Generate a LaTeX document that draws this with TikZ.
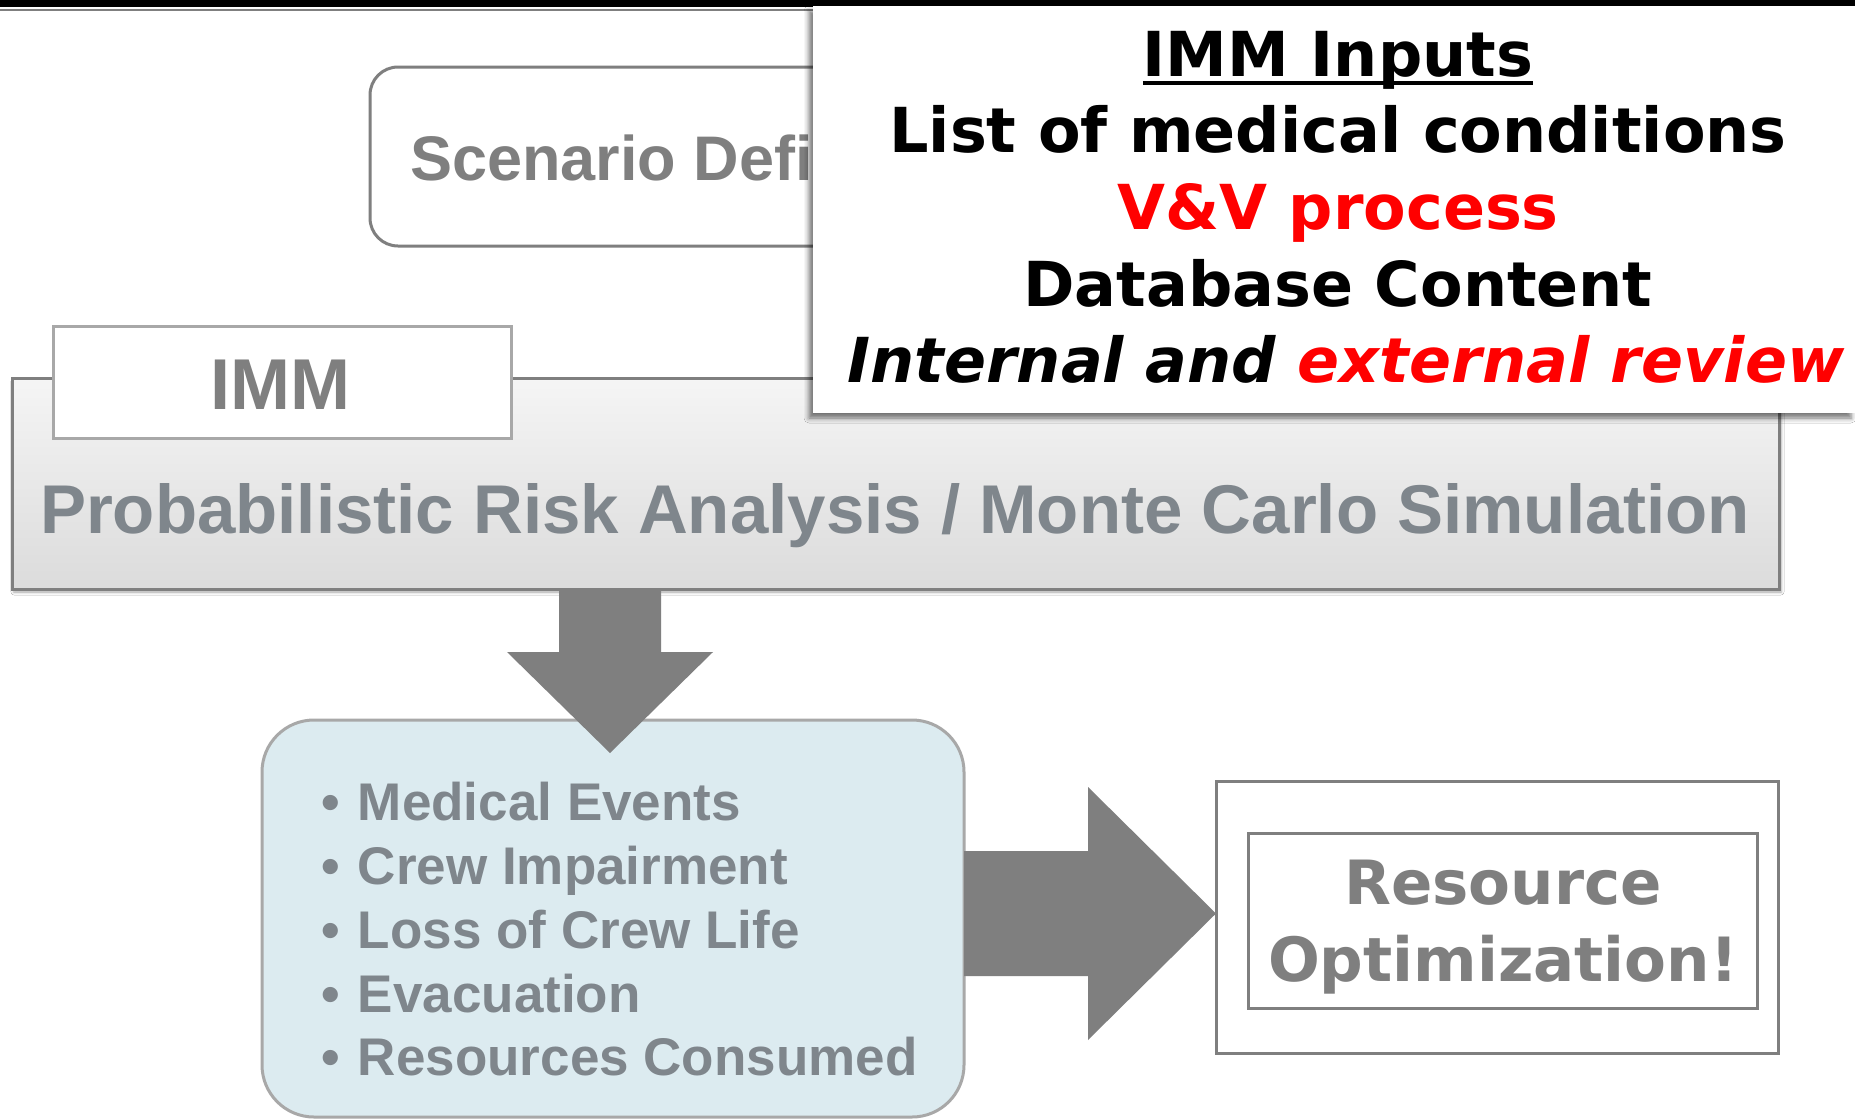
\documentclass[tikz,border=0pt]{standalone}
\usepackage{fontspec}
\setmainfont{Liberation Sans}
\newfontfamily\dvs{DejaVu Sans}
\usetikzlibrary{shadows.blur,calc}
\definecolor{boxgrey}{HTML}{7F7F7F}
\definecolor{txtgrey}{HTML}{7F868C}
\definecolor{tabgrey}{HTML}{A8A8A8}
\definecolor{lightblue}{HTML}{DCEBF0}
\definecolor{vvred}{HTML}{FF0000}
\begin{document}
\begin{tikzpicture}[x=1pt,y=-1pt,
  txt/.style={inner sep=0pt, outer sep=0pt},
  boxnode/.style={rectangle, inner sep=0pt, outer sep=0pt},
  arrowfill/.style={fill=boxgrey, draw=none},
  inputline/.style={txt, anchor=base, font=\dvs\bfseries\fontsize{62}{62}\selectfont},
  bulletline/.style={txt, anchor=base west, text=txtgrey, font=\bfseries\fontsize{53}{53}\selectfont},
  resline/.style={txt, anchor=base, text=boxgrey, font=\dvs\bfseries\fontsize{61}{61}\selectfont}]
\useasboundingbox (0,0) rectangle (1855,1119);
\fill[white] (0,0) rectangle (1855,1119);
% top band
\fill[black] (0,0) rectangle (1855,7);
\draw[boxgrey, line width=2] (0,9.5) -- (813,9.5);

% Scenario box (partly hidden)
\node[boxnode, draw=boxgrey, line width=3, rounded corners=28, minimum width=1030, minimum height=179] (scenbox) at (885,156.5) {};
\node[txt, anchor=base west, text=boxgrey, font=\bfseries\fontsize{63}{63}\selectfont] (scen) at (410,180) {Scenario Defi};

% main IMM box
\node[boxnode, draw=boxgrey, line width=3, top color=black!4, bottom color=black!14,
  blur shadow={shadow xshift=2pt, shadow yshift=-3pt, shadow blur radius=3pt, shadow opacity=35},
  minimum width=1767, minimum height=211] (main) at (895.5,483.5) {};
\node[boxnode, draw=tabgrey, line width=3, fill=white, minimum width=458, minimum height=112] (tab) at (282,382) {};
\node[txt, anchor=base, text=boxgrey, font=\bfseries\fontsize{72}{72}\selectfont] (immlabel) at (280,409) {IMM};
\node[txt, anchor=base west, text=txtgrey, font=\bfseries\fontsize{69}{69}\selectfont] (pra) at (40,533) {Probabilistic Risk Analysis / Monte Carlo Simulation};

% IMM inputs overlay box
\node[boxnode, fill=white,
  blur shadow={shadow xshift=-4pt, shadow yshift=-5pt, shadow blur radius=5pt, shadow opacity=55},
  minimum width=1042, minimum height=407] (inputs) at (1334,209.5) {};
\node[inputline] (in1) at (1338,76) {IMM Inputs};
\draw[black, line width=4] ($(in1.base west)+(0,7)$) -- ($(in1.base east)+(0,7)$);
\node[inputline] (in2) at (1338,152) {List of medical conditions};
\node[inputline, text=vvred] (in3) at (1338,229) {V\&V process};
\node[inputline] (in4) at (1338,306) {Database Content};
\node[inputline, font=\dvs\bfseries\itshape\fontsize{62}{62}\selectfont] (in5) at (1346,382) {Internal and \textcolor{vvred}{external review}};

% outputs box
\node[boxnode, draw=tabgrey, line width=3, fill=lightblue, rounded corners=52, minimum width=702, minimum height=397] (outbox) at (613,918.5) {};
\node[bulletline] (b1) at (321,820) {\makebox[37pt][l]{•}Medical Events};
\node[bulletline] (b2) at (321,884) {\makebox[37pt][l]{•}Crew Impairment};
\node[bulletline] (b3) at (321,948) {\makebox[37pt][l]{•}Loss of Crew Life};
\node[bulletline] (b4) at (321,1012) {\makebox[37pt][l]{•}Evacuation};
\node[bulletline] (b5) at (321,1075) {\makebox[37pt][l]{•}Resources Consumed};

% down arrow
\coordinate (dtop) at (610,589);
\coordinate (dtip) at (610,753);
\fill[arrowfill] ($(dtop)+(-51,0)$) -- ($(dtop)+(51,0)$) -- (661,652) -- (713,652) -- (dtip) -- (507,652) -- (559,652) -- cycle;

% resource boxes
\node[boxnode, draw=boxgrey, line width=3, fill=white, minimum width=562, minimum height=272] (resouter) at (1497,917) {};
\node[boxnode, draw=boxgrey, line width=3, minimum width=509, minimum height=175] (resinner) at (1502.5,920.5) {};
\node[resline] (r1) at (1503,904) {Resource};
\node[resline] (r2) at (1503,981) {Optimization!};

% right arrow
\coordinate (rstart) at (outbox.east |- 0,913.5);
\coordinate (rtip) at (resouter.west |- 0,913.5);
\fill[arrowfill] ($(rstart)+(0,-62.5)$) -- (1088,851) -- (1088,787) -- (rtip) -- (1088,1040) -- (1088,976) -- ($(rstart)+(0,62.5)$) -- cycle;
\end{tikzpicture}
\end{document}
